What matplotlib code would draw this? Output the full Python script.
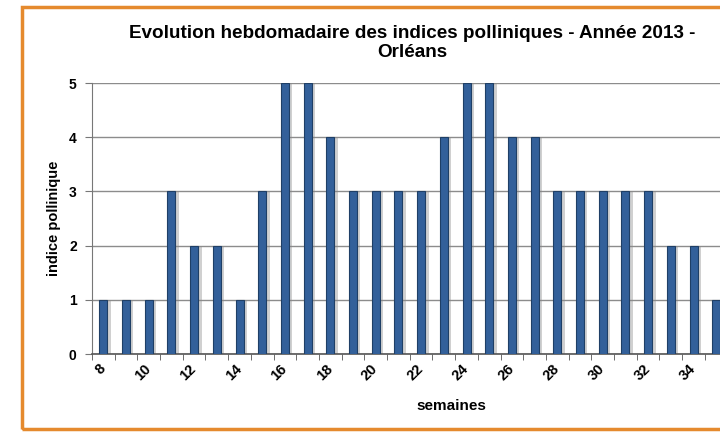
import matplotlib
matplotlib.use('Agg')
import matplotlib.pyplot as plt
from matplotlib.patches import Rectangle

# weekly pollen index, Orléans 2013
weeks = list(range(8, 36))
indices = [1, 1, 1, 3, 2, 2, 1, 3, 5, 5, 4, 3, 3, 3, 3, 4, 5, 5, 4, 4, 3, 3, 3, 3, 3, 2, 2, 1]
tick_weeks = list(range(8, 35, 2))
y_ticks = [0, 1, 2, 3, 4, 5]

title = "Evolution hebdomadaire des indices polliniques - Année 2013 -\nOrléans"

plt.rcParams['font.family'] = ['Liberation Sans', 'DejaVu Sans']

fig = plt.figure(figsize=(7.2, 4.33), dpi=100)

# orange frame around the chart
frame = Rectangle((22 / 720, 4 / 433), 1.2, 422 / 433, transform=fig.transFigure,
                  fill=False, edgecolor='#E58A2E', linewidth=2.5, clip_on=False)
fig.patches.append(frame)

ax = fig.add_axes([92 / 720, 79 / 433, 635.6 / 720, 271 / 433])

# soft shadow then bars
ax.bar([w + 0.15 for w in weeks], indices, width=0.35, color='#8a8a8a', alpha=0.4, zorder=2)
ax.bar(weeks, indices, width=0.35, color='#33609A', edgecolor='#1F3F66', linewidth=0.8, zorder=3)

ax.set_xlim(7.5, 35.5)
ax.set_ylim(0, 5)
ax.set_yticks(y_ticks)
ax.set_yticklabels([str(v) for v in y_ticks], fontweight='bold', fontsize=10)
ax.set_xticks(tick_weeks)
ax.set_xticklabels([str(w) for w in tick_weeks], rotation=45, fontweight='bold', fontsize=10.5,
                   ha='right', va='center', rotation_mode='anchor')
ax.tick_params(axis='x', length=0, pad=9)
ax.set_xticks([w + 0.5 for w in range(7, 35)], minor=True)
ax.tick_params(axis='x', which='minor', length=4, color='#555555')
ax.tick_params(axis='y', length=5, color='#777777', pad=6)

ax.yaxis.grid(True, color='#8c8c8c', linewidth=1.0, zorder=0)
ax.set_axisbelow(True)
for s in ['top', 'right']:
    ax.spines[s].set_visible(False)
ax.spines['left'].set_color('#777777')
ax.spines['bottom'].set_color('#555555')
ax.spines['bottom'].set_linewidth(1.2)

ax.set_ylabel('indice pollinique', fontweight='bold', fontsize=10.5)
ax.yaxis.set_label_coords(-0.049, 0.5)
ax.set_xlabel('semaines', fontweight='bold', fontsize=11)
ax.xaxis.set_label_coords(0.566, -0.165)

fig.text(412 / 720, 1 - 43 / 433, title, ha='center', va='center', fontsize=13.6,
         fontweight='bold', multialignment='center', linespacing=1.1)

fig.savefig('out.png', dpi=100)
